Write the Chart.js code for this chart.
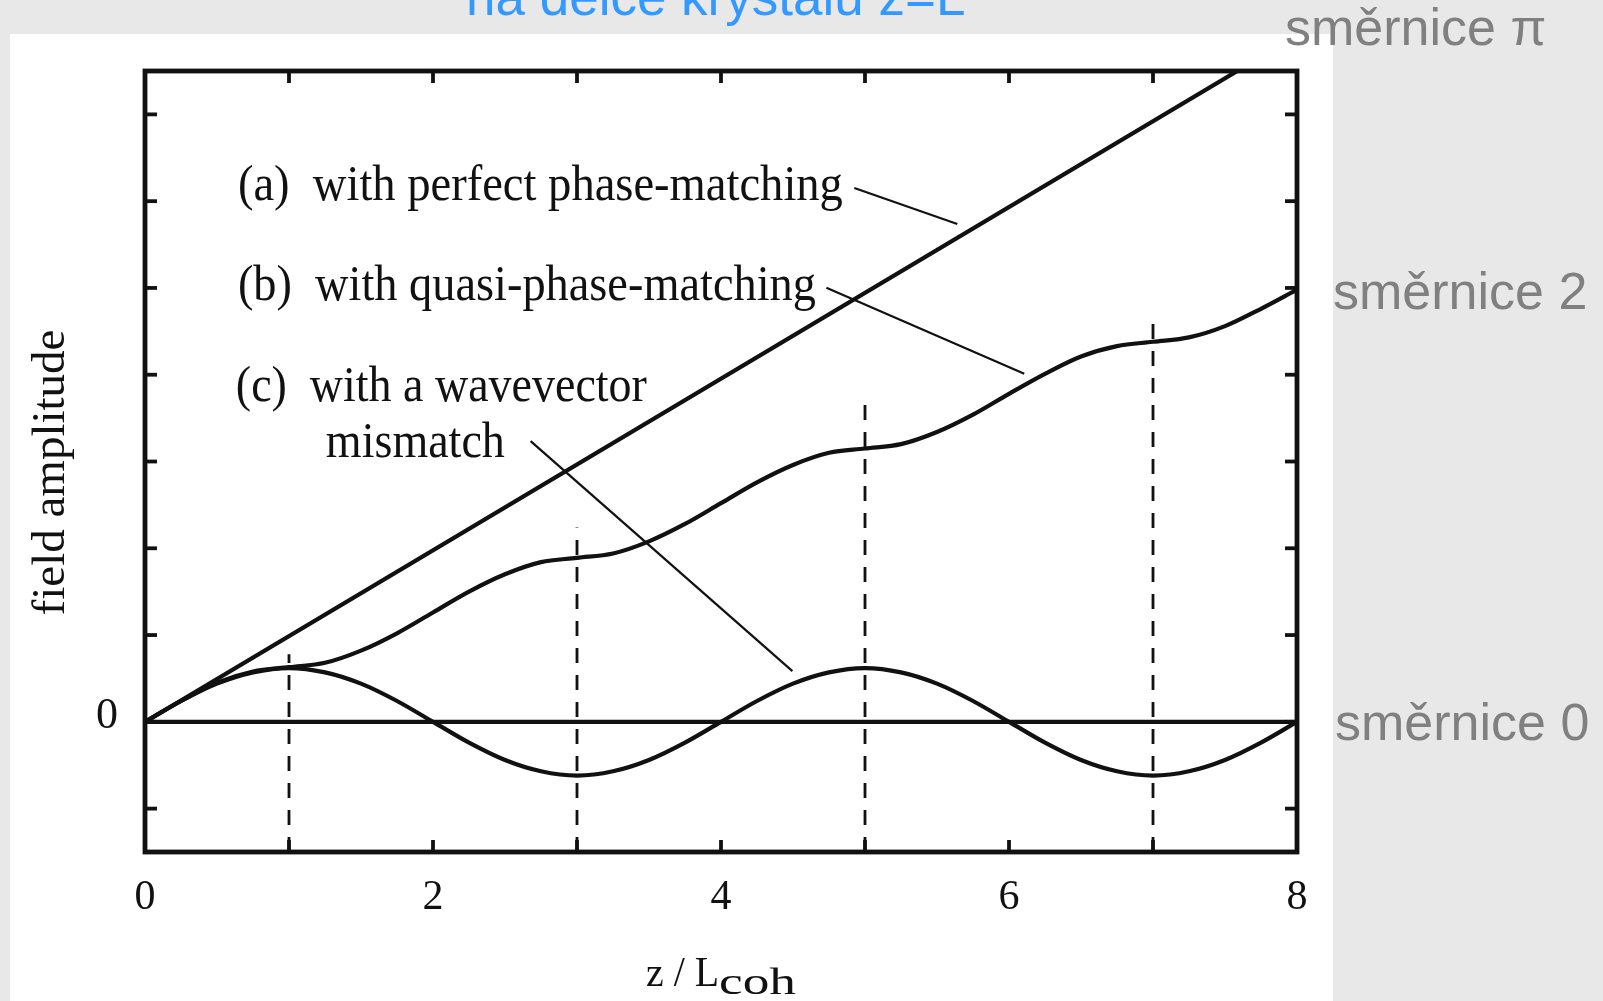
<!DOCTYPE html>
<html>
<head>
<meta charset="utf-8">
<title>field amplitude</title>
<script src="https://cdn.jsdelivr.net/npm/chart.js@4.4.1/dist/chart.umd.min.js"></script>
<style>
  html, body { margin: 0; padding: 0; background: #e8e8e8; overflow: hidden; }
  canvas { display: block; }
</style>
</head>
<body>
<canvas id="chart" width="1603" height="1001"></canvas>
<script>
// z / L_coh sample positions
const zPos = [0, 0.25, 0.5, 0.75, 1, 1.25, 1.5, 1.75, 2, 2.25, 2.5, 2.75, 3, 3.25, 3.5, 3.75,
              4, 4.25, 4.5, 4.75, 5, 5.25, 5.5, 5.75, 6, 6.25, 6.5, 6.75, 7, 7.25, 7.5, 7.75, 8];

// (a) perfect phase-matching: straight line
const perfectZ = [0, 8];
const perfectVal = [0, 7.91];

// (b) quasi-phase-matching
const quasiVal = [0, 0.24, 0.45, 0.58, 0.63, 0.68, 0.82, 1.02, 1.26, 1.50, 1.70, 1.84, 1.89, 1.94, 2.08, 2.28,
                  2.52, 2.76, 2.96, 3.10, 3.15, 3.20, 3.34, 3.54, 3.78, 4.01, 4.21, 4.33, 4.38, 4.43, 4.56, 4.76, 4.98];

// (c) wavevector mismatch
const mismatchVal = [0, 0.24, 0.44, 0.57, 0.62, 0.57, 0.44, 0.24, 0, -0.24, -0.44, -0.57, -0.62, -0.57, -0.44, -0.24,
                     0, 0.24, 0.44, 0.57, 0.62, 0.57, 0.44, 0.24, 0, -0.24, -0.44, -0.57, -0.62, -0.57, -0.44, -0.24, 0];

// zero-slope reference line
const zeroZ = [0, 8];
const zeroVal = [0, 0];

// dashed markers at odd coherence lengths
const cohZ = [1, 3, 5, 7];
const cohTop = [0.78, 2.24, 3.68, 4.68];

// axes
const xRange = [0, 8];
const yRange = [-1.5, 7.5];
const xTicks = [0, 1, 2, 3, 4, 5, 6, 7, 8];
const xLabeled = [0, 2, 4, 6, 8];
const yTicks = [-1, 0, 1, 2, 3, 4, 5, 6, 7];
const yLabeled = [0];

const INK = '#111111';
const SERIF = '"Liberation Serif", "DejaVu Serif", serif';
const SANS = '"Liberation Sans", Arial, sans-serif';

const toPts = (xs, ys) => xs.map((x, i) => ({ x: x, y: ys[i] }));

const curveStyle = {
  borderColor: INK, borderWidth: 4.2, pointRadius: 0, fill: false,
  borderCapStyle: 'round', borderJoinStyle: 'round'
};

const datasets = [
  Object.assign({ label: 'zero', data: toPts(zeroZ, zeroVal) }, curveStyle),
  Object.assign({ label: '(a)', data: toPts(perfectZ, perfectVal) }, curveStyle),
  Object.assign({ label: '(b)', data: toPts(zPos, quasiVal), cubicInterpolationMode: 'monotone' }, curveStyle),
  Object.assign({ label: '(c)', data: toPts(zPos, mismatchVal), cubicInterpolationMode: 'monotone' }, curveStyle)
];
cohZ.forEach((z, i) => {
  datasets.push({
    label: 'coh' + z,
    data: [{ x: z, y: yRange[0] }, { x: z, y: cohTop[i] }],
    borderColor: INK, borderWidth: 2.8, borderDash: [15, 12], pointRadius: 0, fill: false
  });
});

// curve captions with leader lines, anchored in data units
const notes = [
  { text: '(a)  with perfect phase-matching', at: [0.645, 6.01], width: 605,
    leader: [[4.926, 6.151], [5.641, 5.736]] },
  { text: '(b)  with quasi-phase-matching', at: [0.645, 4.86], width: 578,
    leader: [[4.732, 5.001], [6.106, 4.010]] },
  { text: '(c)  with a wavevector', at: [0.631, 3.70], width: 411,
    leader: [[2.678, 3.235], [4.496, 0.585]] },
  { text: 'mismatch', at: [1.256, 3.05], width: 179, leader: null }
];

function fitText(ctx, str, x, y, font, width) {
  ctx.save();
  ctx.font = font;
  const w = ctx.measureText(str).width;
  ctx.translate(x, y);
  if (width) ctx.scale(width / w, 1);
  ctx.fillText(str, 0, 0);
  ctx.restore();
}

function seg(ctx, x1, y1, x2, y2) {
  ctx.beginPath();
  ctx.moveTo(x1, y1);
  ctx.lineTo(x2, y2);
  ctx.stroke();
}

const decor = {
  id: 'decor',
  beforeDraw(chart) {
    const ctx = chart.ctx;
    ctx.save();
    ctx.fillStyle = '#ffffff';
    ctx.fillRect(10, 34, 1323, 967);
    ctx.restore();
  },
  afterDatasetsDraw(chart) {
    const { ctx, chartArea: a, scales: { x, y } } = chart;
    ctx.save();
    ctx.strokeStyle = INK;
    ctx.fillStyle = INK;

    // frame
    ctx.lineWidth = 4.8;
    ctx.lineJoin = 'miter';
    ctx.strokeRect(a.left, a.top, a.right - a.left, a.bottom - a.top);

    // inward tick marks on all four sides
    ctx.lineWidth = 3.8;
    const tl = 12;
    xTicks.forEach(v => {
      if (v <= xRange[0] || v >= xRange[1]) return;
      const px = x.getPixelForValue(v);
      seg(ctx, px, a.bottom, px, a.bottom - tl);
      seg(ctx, px, a.top, px, a.top + tl);
    });
    yTicks.forEach(v => {
      const py = y.getPixelForValue(v);
      seg(ctx, a.left, py, a.left + tl, py);
      seg(ctx, a.right, py, a.right - tl, py);
    });

    // captions and leader lines
    ctx.lineWidth = 2.2;
    ctx.textBaseline = 'alphabetic';
    ctx.textAlign = 'left';
    notes.forEach(n => {
      fitText(ctx, n.text, x.getPixelForValue(n.at[0]), y.getPixelForValue(n.at[1]),
              '50px ' + SERIF, n.width);
      if (n.leader) {
        seg(ctx, x.getPixelForValue(n.leader[0][0]), y.getPixelForValue(n.leader[0][1]),
                 x.getPixelForValue(n.leader[1][0]), y.getPixelForValue(n.leader[1][1]));
      }
    });

    // y axis title, rotated
    ctx.save();
    ctx.translate(64, (a.top + a.bottom) / 2 + 11);
    ctx.rotate(-Math.PI / 2);
    ctx.textAlign = 'center';
    ctx.font = '47px ' + SERIF;
    ctx.fillText('field amplitude', 0, 0);
    ctx.restore();

    // x axis title with subscript
    const cx = (a.left + a.right) / 2;
    const mainW = 73, subW = 77;
    const startX = cx - (mainW + subW) / 2;
    fitText(ctx, 'z / L', startX, a.bottom + 134, '42px ' + SERIF, mainW);
    fitText(ctx, 'coh', startX + mainW, a.bottom + 142, '38px ' + SERIF, subW);
    ctx.restore();
  },
  afterDraw(chart) {
    const ctx = chart.ctx;
    ctx.save();
    ctx.textBaseline = 'alphabetic';
    ctx.textAlign = 'left';
    ctx.fillStyle = '#3399ff';
    ctx.font = '53px ' + SANS;
    ctx.fillText('na délce krystalu z=L', 466, 15);
    ctx.font = '52px ' + SANS;
    ctx.fillStyle = '#808080';
    ctx.fillText('směrnice π', 1285, 45);
    ctx.fillText('směrnice 2', 1333, 309);
    ctx.fillText('směrnice 0', 1335, 740);
    ctx.restore();
  }
};

new Chart(document.getElementById('chart'), {
  type: 'line',
  data: { datasets: datasets },
  plugins: [decor],
  options: {
    responsive: false,
    animation: false,
    devicePixelRatio: 1,
    layout: { padding: { top: 71, right: 306, left: 0, bottom: 0 } },
    plugins: { legend: { display: false }, tooltip: { enabled: false } },
    elements: { line: { tension: 0 } },
    scales: {
      x: {
        type: 'linear', position: 'bottom', min: xRange[0], max: xRange[1],
        afterFit(s) { s.height = 149; },
        afterBuildTicks(s) { s.ticks = xTicks.map(v => ({ value: v })); },
        grid: { display: false, drawTicks: false },
        border: { display: false },
        ticks: {
          autoSkip: false, maxRotation: 0, padding: 21, color: INK,
          font: { family: SERIF, size: 42 },
          callback: v => (xLabeled.includes(v) ? String(v) : '')
        }
      },
      y: {
        type: 'linear', position: 'left', min: yRange[0], max: yRange[1],
        afterFit(s) { s.width = 145; },
        afterBuildTicks(s) { s.ticks = yTicks.map(v => ({ value: v })); },
        grid: { display: false, drawTicks: false },
        border: { display: false },
        ticks: {
          autoSkip: false, padding: 27, color: INK,
          font: { family: SERIF, size: 44, lineHeight: '10px' },
          callback: v => (yLabeled.includes(v) ? [String(v), ''] : '')
        }
      }
    }
  }
});
</script>
</body>
</html>
